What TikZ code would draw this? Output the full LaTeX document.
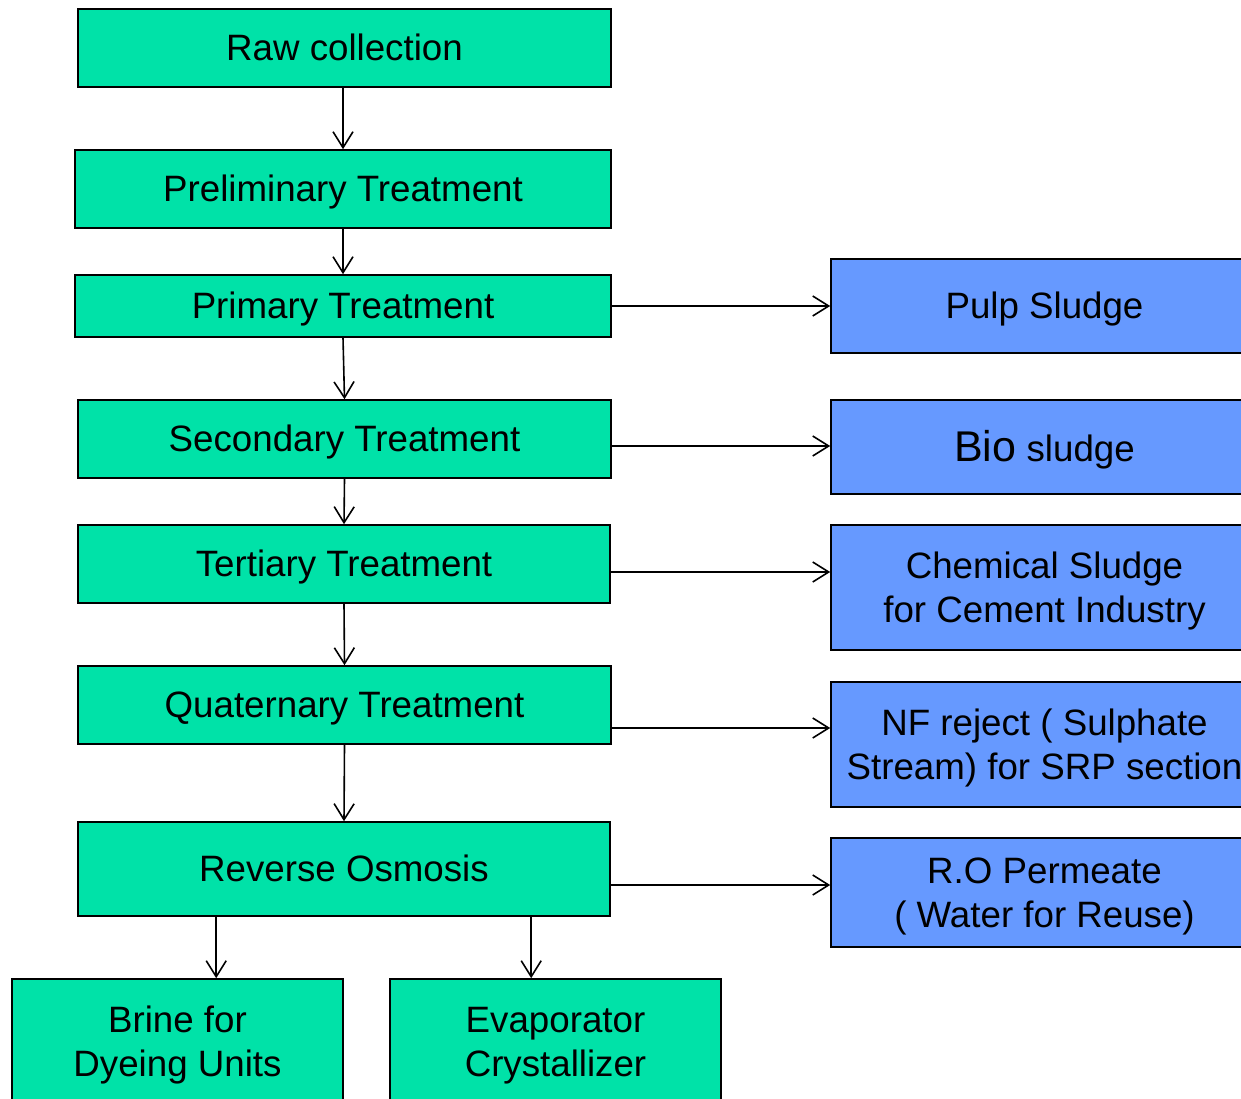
\documentclass[tikz,border=0pt]{standalone}
\usepackage{fontspec}
\setmainfont{Liberation Sans}
\usetikzlibrary{arrows.meta}
\definecolor{gfill}{RGB}{0,226,168}
\definecolor{bfill}{RGB}{102,153,255}
\newcommand\ls{\rule[-7.8pt]{0pt}{41pt}}
\tikzset{
  box/.style={draw=black, line width=1.6pt, inner sep=0pt, align=center,
    font=\fontsize{36.7}{44}\selectfont},
  one/.style={text height=33.2pt, text depth=7.8pt},
  gbox/.style={box, fill=gfill},
  bbox/.style={box, fill=bfill},
  arr/.style={line width=1.6pt, -{Straight Barb[length=16pt,width=20pt,line width=1.6pt]}}
}
\begin{document}
\begin{tikzpicture}[x=1pt,y=-1pt]
\path[use as bounding box, clip] (0,0) rectangle (1241,1099);
\fill[white] (0,0) rectangle (1241,1099);
% green boxes
\node[gbox, one, minimum width=533, minimum height=78] (raw) at (344.5,48) {Raw collection};
\node[gbox, one, minimum width=536, minimum height=78] (pre) at (343,189) {Preliminary Treatment};
\node[gbox, one, minimum width=536, minimum height=62] (pri) at (343,306) {Primary Treatment};
\node[gbox, one, minimum width=533, minimum height=78] (sec) at (344.5,439) {Secondary Treatment};
\node[gbox, one, minimum width=532, minimum height=78] (ter) at (344,564) {Tertiary Treatment};
\node[gbox, one, minimum width=533, minimum height=78] (qua) at (344.5,705) {Quaternary Treatment};
\node[gbox, one, minimum width=532, minimum height=94] (ro) at (344,869) {Reverse Osmosis};
\node[gbox, minimum width=331, minimum height=126] (brine) at (177.5,1042) {\ls Brine for\\\ls Dyeing Units};
\node[gbox, minimum width=331, minimum height=126] (evap) at (555.5,1042) {\ls Evaporator\\\ls Crystallizer};
% blue boxes
\node[bbox, one, minimum width=427, minimum height=94] (pulp) at (1044.5,306) {Pulp Sludge};
\node[bbox, text height=38.9pt, text depth=9.1pt, minimum width=427, minimum height=94] (bio) at (1044.5,447) {{\fontsize{43}{48}\selectfont Bio} sludge};
\node[bbox, minimum width=427, minimum height=125] (chem) at (1044.5,587.5) {\ls Chemical Sludge\\\ls for Cement Industry};
\node[bbox, minimum width=427, minimum height=125] (nf) at (1044.5,744.5) {\ls NF reject ( Sulphate\\\ls Stream) for SRP section};
\node[bbox, minimum width=427, minimum height=109] (rop) at (1044.5,892.5) {\ls R.O Permeate\\\ls ( Water for Reuse)};
% vertical arrows
\draw[arr] (raw.south -| pre.north) -- (pre.north);
\draw[arr] (pre.south) -- (pri.north);
\draw[arr] (pri.south) -- (sec.north);
\draw[arr] (sec.south) -- (ter.north);
\draw[arr] (ter.south) -- (qua.north);
\draw[arr] (qua.south) -- (ro.north);
\draw[arr] ([xshift=139]ro.south west) -- ([xshift=205]brine.north west);
\draw[arr] ([xshift=454]ro.south west) -- ([xshift=142]evap.north west);
% horizontal arrows
\draw[arr] (pri.east) -- (pri.east -| pulp.west);
\draw[arr] ([yshift=-7]sec.east) -- ([yshift=-7]sec.east -| bio.west);
\draw[arr] ([yshift=-8]ter.east) -- ([yshift=-8]ter.east -| chem.west);
\draw[arr] ([yshift=-23]qua.east) -- ([yshift=-23]qua.east -| nf.west);
\draw[arr] ([yshift=-16]ro.east) -- ([yshift=-16]ro.east -| rop.west);
\end{tikzpicture}
\end{document}
